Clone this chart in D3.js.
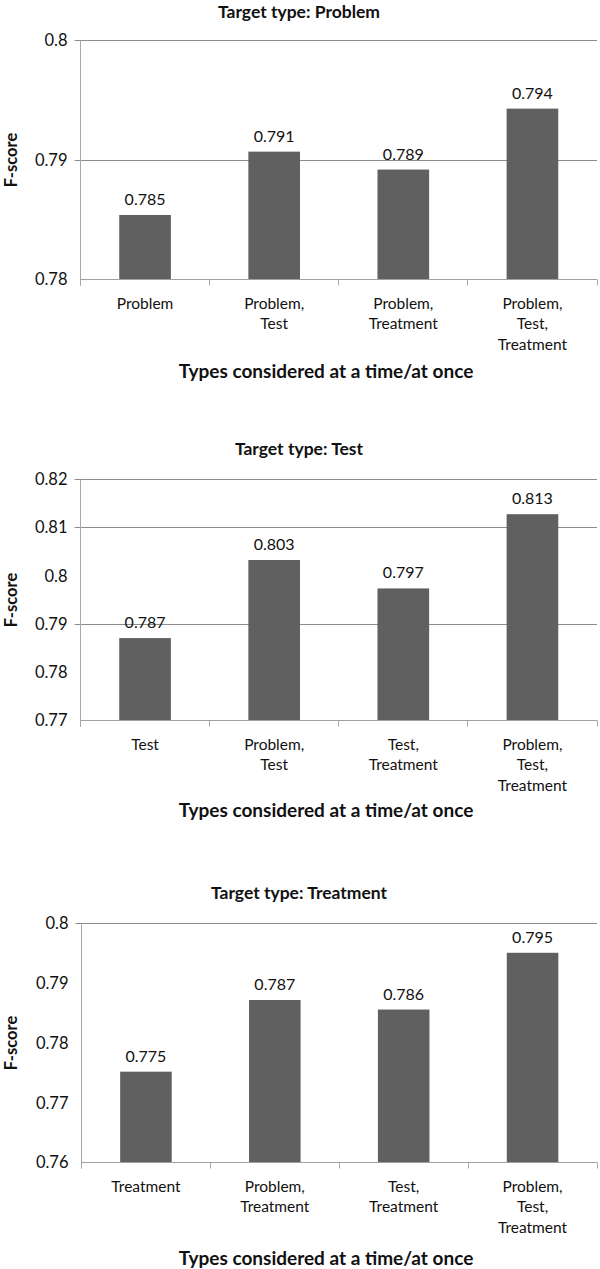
<!DOCTYPE html>
<html>
<head>
<meta charset="utf-8">
<script src="https://cdn.jsdelivr.net/npm/d3@7"></script>
<style>
body { margin: 0; background: #fff; }
text { font-family: Lato, "Open Sans", sans-serif; fill: #111; }
</style>
</head>
<body>
<svg id="chart"></svg>
<script>
// values
var problemCats = ["Problem", "Problem,\nTest", "Problem,\nTreatment", "Problem,\nTest,\nTreatment"];
var problemScores = [0.7854, 0.7907, 0.7892, 0.7943];
var problemTicks = [0.78, 0.79, 0.8];
var problemGrid = [0.79, 0.8];

var testCats = ["Test", "Problem,\nTest", "Test,\nTreatment", "Problem,\nTest,\nTreatment"];
var testScores = [0.7871, 0.8033, 0.7974, 0.8128];
var testTicks = [0.77, 0.78, 0.79, 0.8, 0.81, 0.82];
var testGrid = [0.79, 0.81, 0.82];

var treatCats = ["Treatment", "Problem,\nTreatment", "Test,\nTreatment", "Problem,\nTest,\nTreatment"];
var treatScores = [0.7752, 0.7872, 0.7856, 0.7951];
var treatTicks = [0.76, 0.77, 0.78, 0.79, 0.8];
var treatGrid = [0.8];

var width = 600, height = 1269;
var right = 597;

var panels = [
    {title: "Target type: Problem", cats: problemCats, scores: problemScores, ticks: problemTicks, grid: problemGrid,
     top: 40.5, bottom: 279.5, left: 80.5, titleY: 18, xTitleY: 378},
    {title: "Target type: Test", cats: testCats, scores: testScores, ticks: testTicks, grid: testGrid,
     top: 479.5, bottom: 720.5, left: 80.5, titleY: 455, xTitleY: 817},
    {title: "Target type: Treatment", cats: treatCats, scores: treatScores, ticks: treatTicks, grid: treatGrid,
     top: 923.5, bottom: 1162.5, left: 81.5, titleY: 899, xTitleY: 1265}
];

var svg = d3.select('#chart')
    .attr('width', width)
    .attr('height', height);

function fmtTick(v) { return String(+v.toFixed(2)); }

function drawPanel(p) {
    var g = svg.append('g');

    var x = d3.scaleBand().domain(p.cats).range([p.left, right]).paddingInner(0.6).paddingOuter(0.3);
    var y = d3.scaleLinear().domain(d3.extent(p.ticks)).range([p.bottom, p.top]);

    // gridlines (only the ones visible in the figure)
    g.selectAll('.grid')
        .data(p.grid)
        .enter().append('line')
        .attr('x1', p.left - 6).attr('x2', right)
        .attr('y1', function(d) { return Math.round(y(d) - 0.5) + 0.5; })
        .attr('y2', function(d) { return Math.round(y(d) - 0.5) + 0.5; })
        .attr('stroke', '#8c8c8c');

    // bars
    g.selectAll('.bar')
        .data(p.scores)
        .enter().append('rect')
        .attr('class', 'bar')
        .attr('x', function(d, i) { return x(p.cats[i]); })
        .attr('width', x.bandwidth())
        .attr('y', function(d) { return y(d); })
        .attr('height', function(d) { return p.bottom - y(d); })
        .attr('fill', '#606060');

    // value labels
    g.selectAll('.val')
        .data(p.scores)
        .enter().append('text')
        .attr('x', function(d, i) { return x(p.cats[i]) + x.bandwidth() / 2; })
        .attr('y', function(d) { return y(d) - 10; })
        .attr('text-anchor', 'middle')
        .style('font-size', '16px')
        .text(function(d) { return d.toFixed(3); });

    // y axis
    var gy = g.append('g')
        .attr('transform', 'translate(' + p.left + ',0)')
        .call(d3.axisLeft(y).tickValues(p.ticks).tickSize(0).tickPadding(13).tickFormat(fmtTick));
    gy.select('.domain').remove();
    gy.selectAll('text').style('font-size', '16.5px').style('font-family', 'Lato, sans-serif').attr('fill', '#111');

    g.append('line')
        .attr('x1', p.left).attr('x2', p.left)
        .attr('y1', p.top).attr('y2', p.bottom + 6)
        .attr('stroke', '#a8a8a8');

    // x axis
    g.append('line')
        .attr('x1', p.left).attr('x2', right)
        .attr('y1', p.bottom).attr('y2', p.bottom)
        .attr('stroke', '#a0a0a0');

    var bounds = d3.range(p.cats.length + 1).map(function(i) { return p.left + i * (right - p.left) / p.cats.length; });
    g.selectAll('.xtick')
        .data(bounds)
        .enter().append('line')
        .attr('x1', function(d) { return Math.round(d - 0.5) + 0.5; })
        .attr('x2', function(d) { return Math.round(d - 0.5) + 0.5; })
        .attr('y1', p.bottom).attr('y2', p.bottom + 6)
        .attr('stroke', '#a8a8a8');

    var labels = g.selectAll('.cat')
        .data(p.cats)
        .enter().append('text')
        .attr('text-anchor', 'middle')
        .style('font-size', '15.5px')
        .attr('transform', function(d) { return 'translate(' + (x(d) + x.bandwidth() / 2) + ',' + (p.bottom + 29) + ')'; });
    labels.selectAll('tspan')
        .data(function(d) { return d.split('\n'); })
        .enter().append('tspan')
        .attr('x', 0)
        .attr('dy', function(d, i) { return i === 0 ? 0 : 20.5; })
        .text(function(d) { return d; });

    // titles
    g.append('text')
        .attr('x', 299).attr('y', p.titleY)
        .attr('text-anchor', 'middle')
        .style('font-size', '17.5px').style('font-weight', 'bold')
        .text(p.title);

    g.append('text')
        .attr('x', 326).attr('y', p.xTitleY)
        .attr('text-anchor', 'middle')
        .style('font-size', '19px').style('font-weight', 'bold')
        .text('Types considered at a time/at once');

    g.append('text')
        .attr('transform', 'translate(17,' + ((p.top + p.bottom) / 2) + ') rotate(-90)')
        .attr('text-anchor', 'middle')
        .style('font-size', '16.5px').style('font-weight', 'bold')
        .text('F-score');
}

panels.forEach(drawPanel);
</script>
</body>
</html>
